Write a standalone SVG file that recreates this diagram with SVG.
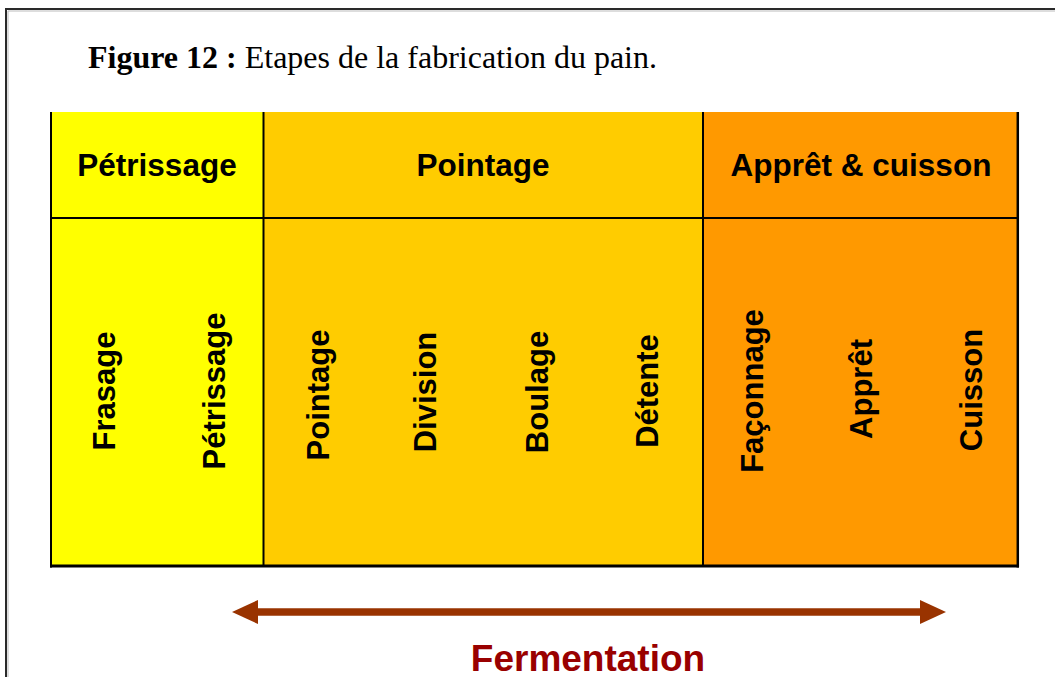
<svg xmlns="http://www.w3.org/2000/svg" width="1055" height="677" viewBox="0 0 1055 677">
<style>
.hdr{font-family:"Liberation Sans",Arial,sans-serif;font-weight:bold;font-size:31.5px;fill:#000;text-anchor:middle}
.vt{font-family:"Liberation Sans",Arial,sans-serif;font-weight:bold;font-size:31px;fill:#000;text-anchor:middle}
.ln{stroke:#000;fill:none}
</style>
<defs>
<marker id="ah" viewBox="0 0 26 24" refX="0" refY="12" markerWidth="26" markerHeight="24" markerUnits="userSpaceOnUse" orient="auto-start-reverse">
<path d="M0,0 L26,12 L0,24 Z" fill="#993300"/>
</marker>
</defs>
<rect width="1055" height="677" fill="#fff"/>
<g id="frame">
<path d="M6,677 V9 H1055" stroke="#2a2a2a" stroke-width="2" fill="none"/>
<path d="M8,677 V11 H1055" stroke="#bbb" stroke-width="1" fill="none"/>
</g>
<g id="title">
<text x="88" y="68" font-family="'Liberation Serif','Times New Roman',serif" font-size="32" fill="#000" textLength="569" lengthAdjust="spacing"><tspan font-weight="bold">Figure 12 :</tspan> Etapes de la fabrication du pain.</text>
</g>
<g id="col-petrissage">
<rect x="51" y="112" width="212.5" height="454" fill="#FFFF00"/>
<text class="hdr" x="157" y="176">Pétrissage</text>
<text class="vt" transform="translate(115,391) rotate(-90)">Frasage</text>
<text class="vt" transform="translate(225,391) rotate(-90)">Pétrissage</text>
</g>
<g id="col-pointage">
<rect x="263.5" y="112" width="439.5" height="454" fill="#FFCC00"/>
<text class="hdr" x="483" y="176">Pointage</text>
<text class="vt" transform="translate(329,395) rotate(-90)">Pointage</text>
<text class="vt" transform="translate(436,392) rotate(-90)">Division</text>
<text class="vt" transform="translate(548,392) rotate(-90)">Boulage</text>
<text class="vt" transform="translate(658,391) rotate(-90)">Détente</text>
</g>
<g id="col-appret">
<rect x="703" y="112" width="315" height="454" fill="#FF9900"/>
<text class="hdr" x="861" y="176">Apprêt &amp; cuisson</text>
<text class="vt" transform="translate(763,391) rotate(-90)">Façonnage</text>
<text class="vt" transform="translate(872,389) rotate(-90)">Apprêt</text>
<text class="vt" transform="translate(982,390) rotate(-90)">Cuisson</text>
</g>
<g id="grid">
<line class="ln" x1="51" y1="112" x2="51" y2="567.5" stroke-width="2"/>
<line class="ln" x1="263.5" y1="112" x2="263.5" y2="566" stroke-width="2"/>
<line class="ln" x1="703" y1="112" x2="703" y2="566" stroke-width="2"/>
<line class="ln" x1="1017.8" y1="112" x2="1017.8" y2="567.5" stroke-width="2.5"/>
<line class="ln" x1="50" y1="218" x2="1019" y2="218" stroke-width="2"/>
<line class="ln" x1="50" y1="566" x2="1019" y2="566" stroke-width="3"/>
</g>
<g id="connectors">
<line x1="258" y1="612" x2="920" y2="612" stroke="#993300" stroke-width="7.3" marker-start="url(#ah)" marker-end="url(#ah)"/>
</g>
<g id="fermentation">
<text x="588" y="671" font-family="'Liberation Sans',Arial,sans-serif" font-weight="bold" font-size="37" fill="#990000" text-anchor="middle">Fermentation</text>
</g>
</svg>
